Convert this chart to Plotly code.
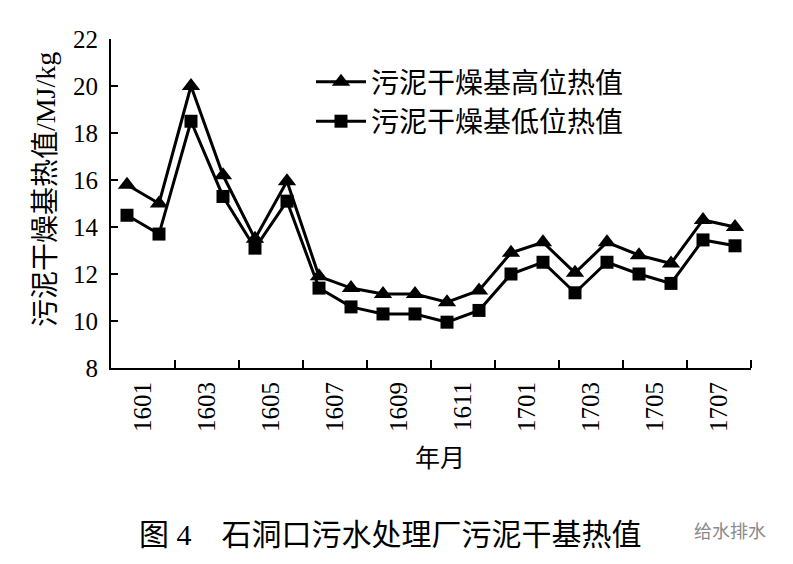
import plotly.graph_objects as go

# months 1601 .. 1708
months = ["1601", "1602", "1603", "1604", "1605", "1606", "1607", "1608", "1609", "1610",
          "1611", "1612", "1701", "1702", "1703", "1704", "1705", "1706", "1707", "1708"]
high_value = [15.8, 15.0, 20.0, 16.2, 13.5, 15.95, 11.9, 11.4, 11.15, 11.15,
              10.8, 11.3, 12.9, 13.35, 12.05, 13.35, 12.8, 12.45, 14.3, 14.0]
low_value = [14.5, 13.7, 18.5, 15.3, 13.1, 15.1, 11.4, 10.6, 10.3, 10.3,
             9.95, 10.45, 12.0, 12.5, 11.2, 12.5, 12.0, 11.6, 13.45, 13.2]
tick_labels = months[::2]

serif = "Liberation Serif, Noto Sans CJK SC"
x = list(range(len(months)))

fig = go.Figure()
fig.add_trace(go.Scatter(
    x=x, y=high_value, name="污泥干燥基高位热值", mode="lines+markers",
    line=dict(color="black", width=3),
    marker=dict(symbol="triangle-up", size=16, color="black")))
fig.add_trace(go.Scatter(
    x=x, y=low_value, name="污泥干燥基低位热值", mode="lines+markers",
    line=dict(color="black", width=3),
    marker=dict(symbol="square", size=13, color="black")))

fig.update_xaxes(
    range=[-0.5, len(months) - 0.5], showgrid=False, zeroline=False,
    showline=True, linecolor="black", linewidth=2,
    tickmode="array", tickvals=[i + 0.5 for i in range(0, len(months), 2)],
    ticktext=tick_labels, ticks="", tickangle=-90, ticklabelstandoff=2,
    tickfont=dict(family=serif, size=25, color="black"),
    minor=dict(tickvals=[i + 1.5 for i in range(0, len(months), 2)],
               ticks="inside", ticklen=8, tickwidth=2, tickcolor="black"))
fig.update_yaxes(
    range=[8, 22], dtick=2, showgrid=False, zeroline=False,
    showline=True, linecolor="black", linewidth=2,
    ticks="inside", ticklen=7, tickwidth=2, tickcolor="black", ticklabelstandoff=6,
    tickfont=dict(family=serif, size=25, color="black"))

# axis titles placed as annotations to sit where the original has them
fig.add_annotation(
    text="污泥干燥基热值/MJ/kg", xref="paper", yref="paper", textangle=-90,
    x=-0.103, y=0.541, xanchor="center", yanchor="middle", showarrow=False,
    font=dict(family=serif, size=28, color="black"))
fig.add_annotation(
    text="年月", xref="paper", yref="paper",
    x=0.514, y=-0.2736, xanchor="center", yanchor="middle", showarrow=False,
    font=dict(family=serif, size=25, color="black"))

fig.add_annotation(
    text="图 4　石洞口污水处理厂污泥干基热值", xref="paper", yref="paper",
    x=0.04, y=-0.505, xanchor="left", yanchor="middle", showarrow=False,
    font=dict(family=serif, size=30, color="black"))
fig.add_annotation(
    text="给水排水", xref="paper", yref="paper",
    x=0.908, y=-0.492, xanchor="left", yanchor="middle", showarrow=False,
    font=dict(family="Noto Sans CJK SC", size=18, color="#8a8a8a"))

# the page body adds an 8px margin, so the figure is 8px smaller and shifted
fig.update_layout(
    width=785, height=556,
    margin=dict(l=103, r=42, t=31, b=196),
    plot_bgcolor="white", paper_bgcolor="white",
    legend=dict(x=0.3125, y=0.945, xanchor="left", yanchor="top",
                font=dict(family=serif, size=28, color="black"),
                bgcolor="rgba(0,0,0,0)", tracegroupgap=0, itemwidth=50),
    showlegend=True)

fig.write_html("out.html")
